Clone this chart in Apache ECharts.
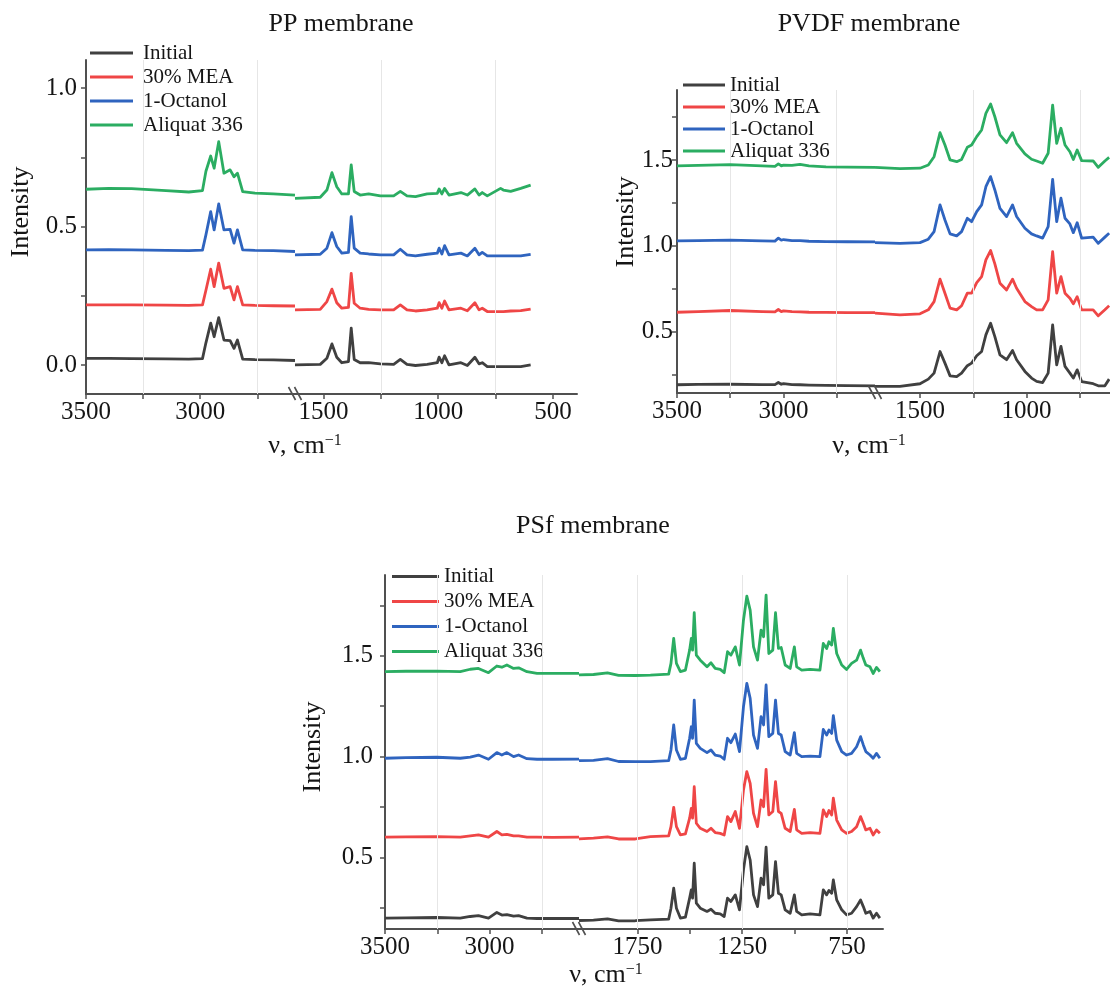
<!DOCTYPE html>
<html>
<head>
<meta charset="utf-8">
<title>Raman spectra of membranes</title>
<script src="https://cdn.jsdelivr.net/npm/echarts@6/dist/echarts.min.js"></script>
<style>
  html, body { margin: 0; padding: 0; background: #fff; }
  #chart { width: 1110px; height: 993px; }
</style>
</head>
<body>
<div id="chart"></div>
<script>
// series shared by all three panels
const seriesNames = ['Initial', '30% MEA', '1-Octanol', 'Aliquat 336'];
const seriesColors = ['#404040', '#ef4646', '#2f64bf', '#2bad62'];

// ---- PP membrane ----
const ppHighX = [3500, 3400, 3300, 3150, 3050, 2990, 2975, 2954, 2939, 2919, 2896, 2869, 2852, 2837, 2814, 2760, 2680, 2585];
const ppHighInitial = [0.024, 0.024, 0.023, 0.022, 0.021, 0.023, 0.080, 0.151, 0.102, 0.171, 0.090, 0.088, 0.060, 0.090, 0.021, 0.019, 0.018, 0.016];
const ppHighMEA = [0.217, 0.217, 0.217, 0.216, 0.215, 0.217, 0.270, 0.346, 0.283, 0.368, 0.277, 0.283, 0.235, 0.283, 0.217, 0.215, 0.214, 0.213];
const ppHighOctanol = [0.416, 0.417, 0.416, 0.414, 0.413, 0.415, 0.470, 0.554, 0.488, 0.582, 0.488, 0.490, 0.440, 0.488, 0.416, 0.414, 0.413, 0.410];
const ppHighAliquat = [0.635, 0.638, 0.637, 0.630, 0.625, 0.630, 0.700, 0.755, 0.711, 0.807, 0.693, 0.705, 0.680, 0.693, 0.626, 0.621, 0.618, 0.614];

const ppLowX = [1624, 1514, 1485, 1463, 1442, 1420, 1391, 1379, 1366, 1340, 1303, 1252, 1194, 1165, 1136, 1099, 1048, 1004, 996, 984,
  972, 953, 901, 873, 840, 822, 808, 786, 728, 716, 684, 640, 597];
const ppLowInitial = [0, 0.002, 0.024, 0.076, 0.028, 0.008, 0.012, 0.133, 0.020, 0.008, 0.008, 0.004, 0.002, 0.020, 0.002, -0.002, 0.002, 0.008, 0.028, 0.008,
  0.033, 0, 0.008, -0.002, 0.028, 0.004, 0.008, -0.006, -0.006, -0.006, -0.006, -0.006, 0];
const ppLowMEA = [0.199, 0.201, 0.229, 0.274, 0.225, 0.205, 0.208, 0.331, 0.223, 0.205, 0.201, 0.199, 0.199, 0.217, 0.199, 0.195, 0.199, 0.205, 0.225, 0.205,
  0.231, 0.199, 0.205, 0.196, 0.225, 0.199, 0.205, 0.193, 0.193, 0.193, 0.195, 0.196, 0.202];
const ppLowOctanol = [0.398, 0.400, 0.422, 0.478, 0.428, 0.404, 0.407, 0.536, 0.422, 0.404, 0.401, 0.398, 0.398, 0.418, 0.398, 0.394, 0.400, 0.404, 0.422, 0.401,
  0.431, 0.398, 0.404, 0.394, 0.422, 0.398, 0.407, 0.394, 0.394, 0.394, 0.394, 0.394, 0.400];
const ppLowAliquat = [0.602, 0.606, 0.632, 0.695, 0.644, 0.618, 0.618, 0.723, 0.627, 0.614, 0.618, 0.611, 0.611, 0.627, 0.611, 0.608, 0.618, 0.620, 0.636, 0.618,
  0.638, 0.614, 0.623, 0.614, 0.636, 0.614, 0.623, 0.611, 0.638, 0.632, 0.627, 0.638, 0.650];

// ---- PVDF membrane ----
const pvdfHighX = [3500, 3400, 3250, 3100, 3040, 3024, 3010, 3000, 2960, 2922, 2880, 2800, 2700, 2570];
const pvdfHighInitial = [0.189, 0.191, 0.192, 0.190, 0.190, 0.202, 0.192, 0.196, 0.190, 0.189, 0.187, 0.185, 0.184, 0.183];
const pvdfHighMEA = [0.612, 0.616, 0.622, 0.616, 0.614, 0.628, 0.616, 0.620, 0.616, 0.614, 0.612, 0.611, 0.610, 0.610];
const pvdfHighOctanol = [1.028, 1.030, 1.033, 1.028, 1.027, 1.044, 1.032, 1.036, 1.030, 1.030, 1.026, 1.024, 1.023, 1.022];
const pvdfHighAliquat = [1.465, 1.468, 1.473, 1.466, 1.463, 1.477, 1.466, 1.470, 1.468, 1.474, 1.465, 1.460, 1.458, 1.457];

const pvdfLowX = [1711, 1594, 1500, 1461, 1434, 1406, 1383, 1359, 1328, 1305, 1278, 1258, 1234, 1211, 1191, 1169, 1149, 1125, 1094, 1066,
  1047, 1008, 977, 953, 925, 899, 878, 859, 839, 820, 797, 781, 763, 742, 688, 664, 633, 613];
const pvdfLowInitial = [0.180, 0.180, 0.195, 0.222, 0.257, 0.383, 0.315, 0.241, 0.237, 0.257, 0.300, 0.315, 0.358, 0.383, 0.480, 0.548, 0.470, 0.364, 0.335, 0.389,
  0.335, 0.267, 0.228, 0.209, 0.202, 0.257, 0.538, 0.305, 0.413, 0.296, 0.257, 0.228, 0.276, 0.208, 0.195, 0.183, 0.183, 0.222];
const pvdfLowMEA = [0.607, 0.597, 0.603, 0.626, 0.674, 0.805, 0.723, 0.636, 0.626, 0.650, 0.723, 0.723, 0.785, 0.820, 0.917, 0.972, 0.894, 0.781, 0.742, 0.805,
  0.752, 0.674, 0.645, 0.626, 0.626, 0.684, 0.966, 0.723, 0.820, 0.723, 0.694, 0.661, 0.703, 0.626, 0.626, 0.591, 0.626, 0.650];
const pvdfLowOctanol = [1.018, 1.014, 1.018, 1.038, 1.082, 1.238, 1.150, 1.069, 1.057, 1.082, 1.160, 1.140, 1.199, 1.238, 1.344, 1.403, 1.325, 1.218, 1.170, 1.238,
  1.170, 1.102, 1.069, 1.057, 1.044, 1.111, 1.387, 1.140, 1.277, 1.160, 1.127, 1.076, 1.134, 1.044, 1.050, 1.014, 1.050, 1.073];
const pvdfLowAliquat = [1.457, 1.449, 1.452, 1.471, 1.519, 1.659, 1.587, 1.500, 1.490, 1.503, 1.574, 1.587, 1.636, 1.675, 1.772, 1.826, 1.752, 1.646, 1.601, 1.659,
  1.597, 1.535, 1.504, 1.494, 1.481, 1.539, 1.820, 1.597, 1.685, 1.587, 1.548, 1.503, 1.558, 1.496, 1.494, 1.457, 1.494, 1.515];

// ---- PSf membrane ----
const psfHighX = [3500, 3400, 3252, 3140, 3092, 3053, 3005, 2965, 2941, 2917, 2885, 2861, 2821, 2773, 2700, 2572];
const psfHighInitial = [0.200, 0.201, 0.203, 0.200, 0.208, 0.212, 0.200, 0.228, 0.215, 0.217, 0.210, 0.212, 0.200, 0.198, 0.198, 0.198];
const psfHighMEA = [0.601, 0.602, 0.604, 0.601, 0.607, 0.612, 0.601, 0.629, 0.612, 0.615, 0.607, 0.607, 0.601, 0.601, 0.600, 0.601];
const psfHighOctanol = [0.992, 0.995, 0.997, 0.992, 0.998, 1.008, 0.987, 1.020, 1.008, 1.020, 1.000, 1.008, 0.990, 0.987, 0.987, 0.988];
const psfHighAliquat = [1.421, 1.423, 1.424, 1.421, 1.433, 1.437, 1.416, 1.449, 1.443, 1.454, 1.437, 1.440, 1.421, 1.413, 1.413, 1.413];

const psfLowX = [2029, 1960, 1893, 1840, 1760, 1688, 1601, 1590, 1577, 1564, 1545, 1521, 1501, 1493, 1487, 1479, 1469, 1450, 1418, 1399,
  1379, 1355, 1336, 1320, 1304, 1283, 1263, 1244, 1228, 1212, 1196, 1177, 1160, 1148, 1136, 1123, 1104, 1091, 1077, 1064,
  1045, 1021, 1001, 990, 966, 926, 879, 863, 847, 836, 823, 815, 799, 775, 752, 728, 704, 685, 672, 660,
  640, 625, 609, 593];
const psfLowInitial = [0.188, 0.190, 0.196, 0.186, 0.187, 0.191, 0.195, 0.249, 0.348, 0.249, 0.200, 0.205, 0.299, 0.340, 0.299, 0.472, 0.274, 0.249, 0.233, 0.244,
  0.224, 0.221, 0.208, 0.299, 0.282, 0.315, 0.241, 0.439, 0.554, 0.488, 0.315, 0.257, 0.398, 0.365, 0.551, 0.299, 0.315, 0.480, 0.323, 0.315,
  0.241, 0.224, 0.315, 0.233, 0.216, 0.221, 0.216, 0.340, 0.315, 0.337, 0.323, 0.389, 0.290, 0.241, 0.216, 0.224, 0.257, 0.290, 0.257, 0.224,
  0.233, 0.200, 0.224, 0.200];
const psfLowMEA = [0.593, 0.596, 0.602, 0.592, 0.592, 0.604, 0.607, 0.653, 0.749, 0.653, 0.612, 0.617, 0.695, 0.744, 0.695, 0.851, 0.670, 0.645, 0.629, 0.645,
  0.624, 0.620, 0.612, 0.703, 0.678, 0.728, 0.645, 0.835, 0.926, 0.868, 0.719, 0.653, 0.785, 0.752, 0.937, 0.711, 0.728, 0.876, 0.728, 0.719,
  0.645, 0.629, 0.739, 0.637, 0.620, 0.624, 0.620, 0.736, 0.703, 0.733, 0.711, 0.794, 0.686, 0.637, 0.620, 0.629, 0.653, 0.703, 0.670, 0.637,
  0.645, 0.612, 0.637, 0.620];
const psfLowOctanol = [0.980, 0.982, 0.990, 0.976, 0.975, 0.975, 0.980, 1.033, 1.157, 1.033, 0.987, 0.992, 1.091, 1.148, 1.091, 1.280, 1.066, 1.041, 1.020, 1.033,
  1.008, 1.003, 0.987, 1.091, 1.069, 1.112, 1.025, 1.247, 1.363, 1.289, 1.107, 1.041, 1.198, 1.157, 1.355, 1.099, 1.115, 1.280, 1.115, 1.107,
  1.025, 1.008, 1.119, 1.016, 1.000, 1.003, 1.000, 1.135, 1.107, 1.132, 1.115, 1.203, 1.082, 1.025, 1.008, 1.016, 1.049, 1.099, 1.058, 1.025,
  1.008, 0.992, 1.016, 0.992];
const psfLowAliquat = [1.405, 1.407, 1.415, 1.403, 1.402, 1.404, 1.409, 1.462, 1.586, 1.462, 1.421, 1.429, 1.528, 1.586, 1.528, 1.713, 1.503, 1.478, 1.445, 1.465,
  1.437, 1.432, 1.416, 1.520, 1.503, 1.544, 1.454, 1.676, 1.795, 1.726, 1.544, 1.478, 1.627, 1.594, 1.800, 1.511, 1.528, 1.713, 1.536, 1.541,
  1.454, 1.437, 1.544, 1.445, 1.429, 1.432, 1.429, 1.561, 1.536, 1.569, 1.553, 1.635, 1.511, 1.454, 1.432, 1.462, 1.478, 1.528, 1.487, 1.454,
  1.445, 1.412, 1.442, 1.421];

// axis ticks / labels / faint grid lines
const highTicks = [3500, 3250, 3000, 2750];
const highLabels = [3500, 3000];
const highGrid = [3250, 2750];
const ppLowTicks = [1500, 1250, 1000, 750, 500];
const ppLowLabels = [1500, 1000, 500];
const pvdfLowTicks = [1500, 1250, 1000, 750];
const pvdfLowLabels = [1500, 1000];
const psfLowTicks = [1750, 1500, 1250, 1000, 750];
const psfLowLabels = [1750, 1250, 750];
const ppLowGrid = [1250, 750];
const psfLowGrid = [1750, 1250, 750];
const ppYTicks = [0, 0.25, 0.5, 0.75, 1.0];
const ppYLabels = [0, 0.5, 1.0];
const yTicks = [0.25, 0.5, 0.75, 1.0, 1.25, 1.5, 1.75];
const yLabels = [0.5, 1.0, 1.5];

const FONT = 'Liberation Serif';
const AXIS = '#505050';
const TEXT = '#151515';

const panels = [
  {
    title: 'PP membrane', titleX: 341, titleY: 24,
    x0: 86, brk: 295, x1: 577, top: 60, bottom: 394,
    yMin: -0.105, yMax: 1.102, yTicks: ppYTicks, yLabels: ppYLabels, yMargin: 9,
    hiMin: 2585, loMax: 1624, loMin: 395,
    loTicks: ppLowTicks, loLabels: ppLowLabels, loGrid: ppLowGrid,
    high: [ppHighX, ppHighInitial, ppHighMEA, ppHighOctanol, ppHighAliquat],
    low: [ppLowX, ppLowInitial, ppLowMEA, ppLowOctanol, ppLowAliquat],
    legLeft: 90, legTop: 41, legPitch: 24, legW: 43, legPad: 5,
    yNameX: 21, yNameY: 212, xNameX: 305, xNameY: 446
  },
  {
    title: 'PVDF membrane', titleX: 869, titleY: 24,
    x0: 677, brk: 875, x1: 1110, top: 90, bottom: 393,
    yMin: 0.141, yMax: 1.908, yTicks: yTicks, yLabels: yLabels, yMargin: 4,
    hiMin: 2570, loMax: 1711, loMin: 609,
    loTicks: pvdfLowTicks, loLabels: pvdfLowLabels, loGrid: ppLowGrid,
    high: [pvdfHighX, pvdfHighInitial, pvdfHighMEA, pvdfHighOctanol, pvdfHighAliquat],
    low: [pvdfLowX, pvdfLowInitial, pvdfLowMEA, pvdfLowOctanol, pvdfLowAliquat],
    legLeft: 683, legTop: 74, legPitch: 22, legW: 42, legPad: 0,
    yNameX: 626, yNameY: 222, xNameX: 869, xNameY: 446
  },
  {
    title: 'PSf membrane', titleX: 593, titleY: 526,
    x0: 385, brk: 579, x1: 883, top: 575, bottom: 929,
    yMin: 0.146, yMax: 1.9, yTicks: yTicks, yLabels: yLabels, yMargin: 12,
    hiMin: 2572, loMax: 2029, loMin: 578,
    loTicks: psfLowTicks, loLabels: psfLowLabels, loGrid: psfLowGrid,
    high: [psfHighX, psfHighInitial, psfHighMEA, psfHighOctanol, psfHighAliquat],
    low: [psfLowX, psfLowInitial, psfLowMEA, psfLowOctanol, psfLowAliquat],
    legLeft: 392, legTop: 564, legPitch: 25, legW: 47, legPad: 0,
    yNameX: 313, yNameY: 747, xNameX: 606, xNameY: 975
  }
];

const grid = [], xAxis = [], yAxis = [], series = [], legend = [], graphic = [];

function zip(xs, ys) {
  return xs.map((x, i) => [x, ys[i]]);
}

function xAxisOpt(gi, min, max, ticks, labels) {
  return {
    type: 'value', gridIndex: gi, inverse: true, min: min, max: max,
    axisLine: { show: true, onZero: false, lineStyle: { color: AXIS, width: 2 } },
    axisTick: { show: true, customValues: ticks, length: 5, lineStyle: { color: AXIS, width: 1.5 } },
    axisLabel: {
      customValues: labels, formatter: v => String(v),
      fontFamily: FONT, fontSize: 25, color: TEXT, margin: 6
    },
    splitLine: { show: false }
  };
}

function addPanel(p) {
  const gi = grid.length;
  const h = p.bottom - p.top;
  // left part (high wavenumbers) and right part (fingerprint region) of the broken axis
  grid.push({ left: p.x0, top: p.top, width: p.brk - p.x0, height: h, outerBoundsMode: 'none' });
  grid.push({ left: p.brk, top: p.top, width: p.x1 - p.brk, height: h, outerBoundsMode: 'none' });

  xAxis.push(xAxisOpt(gi, p.hiMin, 3500, highTicks, highLabels));
  xAxis.push(xAxisOpt(gi + 1, p.loMin, p.loMax, p.loTicks, p.loLabels));

  yAxis.push({
    type: 'value', gridIndex: gi, min: p.yMin, max: p.yMax,
    axisLine: { show: true, onZero: false, lineStyle: { color: AXIS, width: 2 } },
    axisTick: { show: true, customValues: p.yTicks, length: 5, lineStyle: { color: AXIS, width: 1.5 } },
    axisLabel: {
      customValues: p.yLabels, formatter: v => Number(v).toFixed(1),
      fontFamily: FONT, fontSize: 25, color: TEXT, margin: p.yMargin
    },
    splitLine: { show: false }
  });
  yAxis.push({ type: 'value', gridIndex: gi + 1, min: p.yMin, max: p.yMax, show: false, splitLine: { show: false } });

  [[p.high, highGrid, gi], [p.low, p.loGrid, gi + 1]].forEach(([part, gridVals, idx]) => {
    seriesNames.forEach((name, k) => {
      const s = {
        type: 'line', name: name, xAxisIndex: idx, yAxisIndex: idx,
        data: zip(part[0], part[k + 1]),
        symbol: 'none', showSymbol: false,
        lineStyle: { color: seriesColors[k], width: 2.8, join: 'round' },
        itemStyle: { color: seriesColors[k] },
        z: 3 + k
      };
      if (k === 0) {
        s.markLine = {
          silent: true, symbol: 'none', label: { show: false },
          lineStyle: { color: '#e6e6e6', width: 1, type: 'solid' },
          data: gridVals.map(v => ({ xAxis: v }))
        };
      }
      series.push(s);
    });
  });

  legend.push({
    data: seriesNames, orient: 'vertical', left: p.legLeft, top: p.legTop,
    icon: 'rect', itemWidth: p.legW, itemHeight: 3, itemGap: 0, padding: 0,
    textStyle: { fontFamily: FONT, fontSize: 21, color: TEXT, lineHeight: p.legPitch, padding: [0, 0, 0, p.legPad] }
  });

  graphic.push({
    type: 'text', x: p.titleX, y: p.titleY,
    style: { text: p.title, font: '26px "' + FONT + '"', fill: TEXT, align: 'center', verticalAlign: 'middle' }
  });
  graphic.push({
    type: 'text', x: p.yNameX, y: p.yNameY, rotation: Math.PI / 2,
    style: { text: 'Intensity', font: '26px "' + FONT + '"', fill: TEXT, align: 'center', verticalAlign: 'middle' }
  });
  graphic.push({
    type: 'text', x: p.xNameX, y: p.xNameY,
    style: {
      text: 'ν, cm{sup|−1}', font: '26px "' + FONT + '"', fill: TEXT, align: 'center', verticalAlign: 'middle',
      rich: { sup: { fontSize: 16, fontFamily: FONT, fill: TEXT, verticalAlign: 'top' } }
    }
  });
  // break marks on the x axis
  [-3, 3].forEach(dx => {
    graphic.push({
      type: 'line', z: 50,
      shape: { x1: p.brk + dx - 3.5, y1: p.bottom - 7, x2: p.brk + dx + 3.5, y2: p.bottom + 6 },
      style: { stroke: AXIS, lineWidth: 1.6 }
    });
  });
}

panels.forEach(addPanel);

const chart = echarts.init(document.getElementById('chart'), null, { renderer: 'canvas' });
chart.setOption({
  backgroundColor: '#ffffff',
  animation: false,
  grid: grid,
  xAxis: xAxis,
  yAxis: yAxis,
  legend: legend,
  series: series,
  graphic: graphic
});
</script>
</body>
</html>
